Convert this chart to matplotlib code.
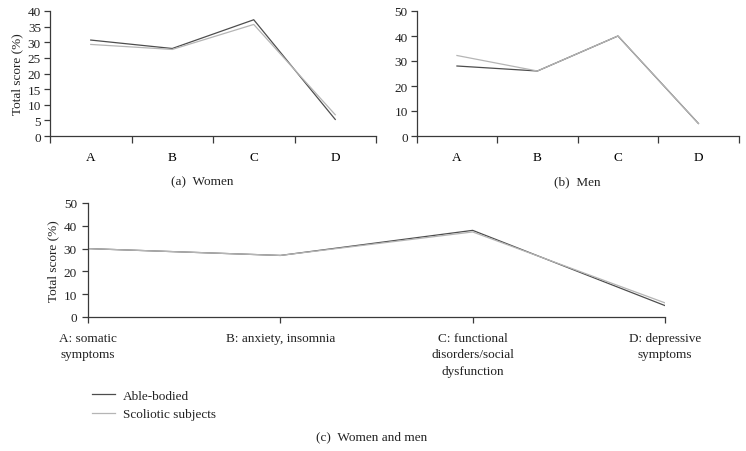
import matplotlib
matplotlib.use("Agg")
import matplotlib.pyplot as plt

plt.rcParams['font.family'] = ['Liberation Serif', 'DejaVu Serif']

short_cats = ["A", "B", "C", "D"]
long_cats = ["A: somatic\nsymptoms", "B: anxiety, insomnia",
             "C: functional\ndisorders/social\ndysfunction", "D: depressive\nsymptoms"]

women_able = [30.7, 28.0, 37.2, 5.3]
women_scol = [29.3, 27.7, 35.7, 6.8]
men_able = [28.0, 26.0, 40.0, 5.0]
men_scol = [32.2, 26.0, 40.0, 5.0]
all_able = [30.0, 27.0, 38.0, 5.0]
all_scol = [30.0, 27.0, 37.3, 6.2]

women_yticks = [0, 5, 10, 15, 20, 25, 30, 35, 40]
men_yticks = [0, 10, 20, 30, 40, 50]
all_yticks = [0, 10, 20, 30, 40, 50]

series_labels = ["Able-bodied", "Scoliotic subjects"]
captions = ["(a)  Women", "(b)  Men", "(c)  Women and men"]

DARK = "#4d4d4d"
LIGHT = "#b5b5b5"
AXC = "#3a3a3a"
FS = 9.5

fig = plt.figure(figsize=(7.46, 4.52), dpi=100)

def style(ax):
    for s in ["top", "right"]:
        ax.spines[s].set_visible(False)
    for s in ["left", "bottom"]:
        ax.spines[s].set_color(AXC)
        ax.spines[s].set_linewidth(0.9)
    ax.tick_params(axis='both', colors=AXC, labelcolor="#222222", labelsize=FS,
                   width=0.9, length=4.5, direction='out')

def small_panel(rect, able, scol, yticks, ylabel):
    ax = fig.add_axes(rect)
    x = list(range(len(short_cats)))
    ax.plot(x, able, color=DARK, lw=0.9)
    ax.plot(x, scol, color=LIGHT, lw=0.9)
    ax.set_xlim(-0.5, len(short_cats) - 0.5)
    ax.set_ylim(yticks[0], yticks[-1])
    ax.set_yticks(yticks)
    ax.set_xticks([i - 0.5 for i in range(len(short_cats) + 1)])
    ax.set_xticklabels([])
    ax.set_xticks(x, minor=True)
    ax.set_xticklabels(short_cats, minor=True)
    style(ax)
    ax.tick_params(axis='x', which='major', length=5)
    ax.tick_params(axis='x', which='minor', length=0, pad=11, labelsize=FS)
    ax.tick_params(axis='y', pad=2)
    if ylabel:
        ax.set_ylabel("Total score (%)", fontsize=FS, color="#222222", labelpad=3)
    return ax

ax1 = small_panel([50/746, 1-137/452, 326/746, 125/452], women_able, women_scol,
                  women_yticks, True)
ax2 = small_panel([416.7/746, 1-137/452, 322/746, 125/452], men_able, men_scol,
                  men_yticks, False)

ax3 = fig.add_axes([88/746, 1-318/452, 577/746, 114/452])
x = list(range(len(long_cats)))
l1, = ax3.plot(x, all_able, color=DARK, lw=0.9)
l2, = ax3.plot(x, all_scol, color=LIGHT, lw=0.9)
ax3.set_xlim(0, len(long_cats) - 1)
ax3.set_ylim(all_yticks[0], all_yticks[-1])
ax3.set_yticks(all_yticks)
ax3.set_xticks(x)
ax3.set_xticklabels(long_cats, linespacing=1.5)
style(ax3)
ax3.tick_params(axis='x', pad=6)
ax3.set_ylabel("Total score (%)", fontsize=FS, color="#222222", labelpad=3)

fig.legend([l1, l2], series_labels, loc='upper left',
           bbox_to_anchor=(80/746, 1-379/452), frameon=False, fontsize=FS,
           handlelength=1.75, handletextpad=0.6, labelspacing=0.45,
           labelcolor="#222222")

fig.text(202/746, 1-182/452, captions[0], ha='center', va='center', fontsize=FS, color="#222222")
fig.text(577/746, 1-182/452, captions[1], ha='center', va='center', fontsize=FS, color="#222222")
fig.text(372/746, 1-437/452, captions[2], ha='center', va='center', fontsize=FS, color="#222222")

fig.savefig("out.png", dpi=100, facecolor="white")
